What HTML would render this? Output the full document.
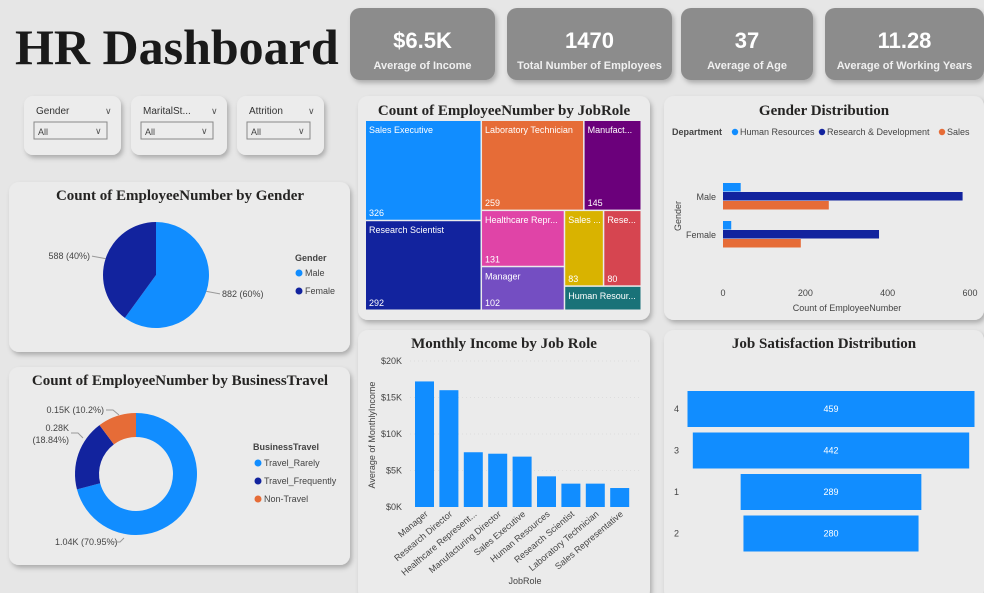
<!DOCTYPE html>
<html><head><meta charset="utf-8">
<style>
body{margin:0;width:984px;height:593px;overflow:hidden;background:#e6e6e6;font-family:"Liberation Sans",sans-serif;}
svg{display:block}
.t{font-family:"Liberation Serif",serif;font-weight:bold;font-size:15px;fill:#252423;text-anchor:middle}
.s{font-size:9px;fill:#444}
.w{fill:#fff;font-size:9px}
</style></head><body>
<svg id="root" width="984" height="593" xmlns="http://www.w3.org/2000/svg">
<defs><filter id="sh" x="-10%" y="-10%" width="130%" height="130%"><feDropShadow dx="2" dy="3" stdDeviation="2.5" flood-color="#000" flood-opacity="0.25"/></filter></defs>
<text x="15" y="64" font-family="Liberation Serif,serif" font-weight="bold" font-size="50" fill="#1a1a1a">HR Dashboard</text>
<g id="kpis"></g>
<g id="slicers"></g>
<g id="cards"></g>
<g id="charts"></g>
</svg>
<script>
const NS="http://www.w3.org/2000/svg";
function el(tag,attrs,parent,text){const e=document.createElementNS(NS,tag);for(const k in attrs)e.setAttribute(k,attrs[k]);if(text!==undefined)e.textContent=text;(parent||document.getElementById('charts')).appendChild(e);return e;}

// KPI data
const kpiValues=["$6.5K","1470","37","11.28"];
const kpiLabels=["Average of Income","Total Number of Employees","Average of Age","Average of Working Years"];
const kpiX=[350,507,681,825],kpiW=[145,165,132,159];
const kg=document.getElementById('kpis');
kpiValues.forEach((v,i)=>{
  const g=el('g',{},kg);
  
  
  el('rect',{x:kpiX[i],y:8,width:kpiW[i],height:72,rx:10,fill:'#8c8c8c',filter:'url(#sh)'},g);
  el('text',{x:kpiX[i]+kpiW[i]/2,y:48,'text-anchor':'middle','font-size':22,'font-weight':'bold',fill:'#fff'},g,v);
  el('text',{x:kpiX[i]+kpiW[i]/2,y:69,'text-anchor':'middle','font-size':11,'font-weight':'bold',fill:'#f0f0f0'},g,kpiLabels[i]);
});

// slicers
const slicerNames=["Gender","MaritalSt...","Attrition"];
const slX=[24,131,237],slW=[97,96,87];
const sg=document.getElementById('slicers');
slicerNames.forEach((n,i)=>{
  const g=el('g',{},sg);
  
  
  el('rect',{x:slX[i],y:96,width:slW[i],height:59,rx:9,fill:'#ececec',filter:'url(#sh)'},g);
  el('text',{x:slX[i]+12,y:114,'font-size':10,fill:'#333'},g,n);
  el('text',{x:slX[i]+slW[i]-16,y:114,'font-size':9,fill:'#555'},g,'∨');
  el('rect',{x:slX[i]+10,y:122,width:slW[i]-24,height:17,fill:'#ececec',stroke:'#888'},g);
  el('text',{x:slX[i]+14,y:135,'font-size':9,fill:'#444'},g,'All');
  el('text',{x:slX[i]+slW[i]-26,y:134,'font-size':9,fill:'#555'},g,'∨');
});

// cards
const cardDefs=[["card-gender-pie",9,182,341,170,"Count of EmployeeNumber by Gender",180,200],
["card-business-travel",9,367,341,198,"Count of EmployeeNumber by BusinessTravel",180,385],
["card-jobrole-treemap",358,96,292,224,"Count of EmployeeNumber by JobRole",504,115],
["card-gender-distribution",664,96,320,224,"Gender Distribution",824,115],
["card-monthly-income",358,330,292,270,"Monthly Income by Job Role",504,348],
["card-job-satisfaction",664,330,320,270,"Job Satisfaction Distribution",824,348]];
const cg=document.getElementById('cards');
cardDefs.forEach(c=>{
  const g=el('g',{},cg);
  
  
  el('rect',{x:c[1],y:c[2],width:c[3],height:c[4],rx:10,fill:'#ebebeb',filter:'url(#sh)'},g);
  const t=el('text',{x:c[6],y:c[7],class:'t'},g,c[5]);
  
  
});

// ---- Gender pie
const genderCats=["Male","Female"];
const genderVals=[882,588];
const genderLbl=["882 (60%)","588 (40%)"];
const genderCols=["#118dff","#12239e"];
(function(){
  const cx=156,cy=275,r=53,tot=genderVals.reduce((a,b)=>a+b,0);
  let a0=0;
  genderVals.forEach((v,i)=>{
    const a1=a0+v/tot*2*Math.PI;
    const p=(a)=>[cx+r*Math.sin(a),cy-r*Math.cos(a)];
    const s=p(a0),e=p(a1);
    const path=el('path',{d:`M${cx},${cy}L${s[0]},${s[1]}A${r},${r} 0 ${a1-a0>Math.PI?1:0} 1 ${e[0]},${e[1]}Z`,fill:genderCols[i]});
    
    
    const m=(a0+a1)/2,lx=cx+(r+8)*Math.sin(m),ly=cy-(r+8)*Math.cos(m);
    const right=Math.sin(m)>0;
    el('line',{x1:cx+r*Math.sin(m),y1:cy-r*Math.cos(m),x2:lx+(right?6:-6),y2:ly,stroke:'#999'});
    const t=el('text',{x:lx+(right?8:-8),y:ly+3,'text-anchor':right?'start':'end',class:'s'},undefined,genderLbl[i]);
    
    
    a0=a1;
  });
  el('text',{x:295,y:261,class:'s','font-weight':'bold'},undefined,'Gender');
  genderCats.forEach((c,i)=>{
    const lg=el('g',{});
    
    
    el('circle',{cx:299,cy:273+i*18,r:3.5,fill:genderCols[i]},lg);
    el('text',{x:305,y:276+i*18,class:'s'},lg,c);
  });
})();

// ---- Business travel donut
const travelCats=["Travel_Rarely","Travel_Frequently","Non-Travel"];
const travelVals=[1043,277,150];
const travelLbl=[["1.04K (70.95%)"],["0.28K","(18.84%)"],["0.15K (10.2%)"]];
const travelCols=["#118dff","#12239e","#e66c37"];
(function(){
  const cx=136,cy=474,R=61,r=37,tot=travelVals.reduce((a,b)=>a+b,0);
  let a0=0;
  const p=(a,rr)=>[cx+rr*Math.sin(a),cy-rr*Math.cos(a)];
  const lpos=[[55,545,'start'],[69,443,'end'],[104,413,'end']];
  travelVals.forEach((v,i)=>{
    const a1=a0+v/tot*2*Math.PI,lg=a1-a0>Math.PI?1:0;
    const s=p(a0,R),e=p(a1,R),s2=p(a1,r),e2=p(a0,r);
    const path=el('path',{d:`M${s}A${R},${R} 0 ${lg} 1 ${e}L${s2}A${r},${r} 0 ${lg} 0 ${e2}Z`,fill:travelCols[i]});
    
    
    const L=travelLbl[i];
    L.forEach((t,j)=>{
      const tx=el('text',{x:lpos[i][0],y:lpos[i][1]+j*12-(L.length-1)*12,'text-anchor':lpos[i][2],class:'s'},undefined,t);
      
      
    });
    a0=a1;
  });
  el('path',{d:'M106,410 h7 l6,5 M71,433 h7 l5,5 M113,542 h7 l4,-4',stroke:'#999',fill:'none'});
  el('text',{x:253,y:450,class:'s','font-weight':'bold'},undefined,'BusinessTravel');
  travelCats.forEach((c,i)=>{
    const lg=el('g',{});
    
    
    el('circle',{cx:258,cy:463+i*18,r:3.5,fill:travelCols[i]},lg);
    el('text',{x:264,y:466+i*18,class:'s'},lg,c);
  });
})();

// ---- Treemap
const roleCats=["Sales Executive","Research Scientist","Laboratory Technician","Manufact...","Healthcare Repr...","Manager","Sales ...","Rese...","Human Resour..."];
const roleVals=[326,292,259,145,131,102,83,80,52];
const roleCols=["#118dff","#12239e","#e66c37","#6b007b","#e044a7","#744ec2","#d9b300","#d64550","#197278"];
(function(){
  const X=366,Y=121,W=276,H=190,tot=roleVals.reduce((a,b)=>a+b,0);
  const rects=[];
  function box(i,x,y,w,h){rects[i]=[x,y,w,h];}
  const sum=(a)=>a.reduce((s,i)=>s+roleVals[i],0);
  const w1=W*sum([0,1])/tot;
  const h0=H*roleVals[0]/sum([0,1]);
  box(0,X,Y,w1,h0);box(1,X,Y+h0,w1,H-h0);
  const X2=X+w1,W2=W-w1,rest=[2,3,4,5,6,7,8];
  const hTop=H*sum([2,3])/sum(rest);
  const w2=W2*roleVals[2]/sum([2,3]);
  box(2,X2,Y,w2,hTop);box(3,X2+w2,Y,W2-w2,hTop);
  const Y3=Y+hTop,H3=H-hTop,r3=[4,5,6,7,8];
  const wA=W2*sum([4,5])/sum(r3);
  const h4=H3*roleVals[4]/sum([4,5]);
  box(4,X2,Y3,wA,h4);box(5,X2,Y3+h4,wA,H3-h4);
  const X4=X2+wA,W4=W2-wA;
  const hB=H3*sum([6,7])/sum([6,7,8]);
  const w6=W4*roleVals[6]/sum([6,7]);
  box(6,X4,Y3,w6,hB);box(7,X4+w6,Y3,W4-w6,hB);box(8,X4,Y3+hB,W4,H3-hB);
  rects.forEach((r,i)=>{
    const g=el('g',{});
    
    
    el('rect',{x:r[0],y:r[1],width:r[2]-1.5,height:r[3]-1.5,fill:roleCols[i]},g);
    el('text',{x:r[0]+3,y:r[1]+12,class:'w'},g,roleCats[i]);
    if(i!==8) el('text',{x:r[0]+3,y:r[1]+r[3]-5,class:'w'},g,roleVals[i]);
  });
})();

// ---- Gender distribution bars
const gdGenders=["Male","Female"];
const gdDepts=["Human Resources","Research & Development","Sales"];
const gdHR=[43,20];
const gdRD=[582,379];
const gdSales=[257,189];
const gdTicks=[0,200,400,600];
const gdCols=["#118dff","#12239e","#e66c37"];
(function(){
  const x0=723,scale=(970-723)/600;
  const xs=v=>x0+v*scale;
  el('text',{x:672,y:135,class:'s','font-weight':'bold'},undefined,'Department');
  const lx=[732,819,939];
  gdDepts.forEach((d,i)=>{
    const g=el('g',{});
    
    
    el('circle',{cx:lx[i]+3,cy:132,r:3.2,fill:gdCols[i]},g);
    el('text',{x:lx[i]+8,y:135,class:'s'},g,d);
  });
  gdTicks.forEach(t=>{
    el('text',{x:xs(t),y:296,class:'s','text-anchor':'middle'},undefined,t);
  });
  el('text',{x:847,y:311,class:'s','text-anchor':'middle','font-size':10},undefined,'Count of EmployeeNumber');
  el('text',{x:0,y:0,class:'s','text-anchor':'middle',transform:'translate(681,216) rotate(-90)'},undefined,'Gender');
  const series=[gdHR,gdRD,gdSales];
  gdGenders.forEach((gname,gi)=>{
    const yc=[197,235][gi];
    el('text',{x:716,y:yc+3,class:'s','text-anchor':'end'},undefined,gname);
    series.forEach((s,si)=>{
      const b=el('rect',{x:x0,y:yc-14+si*9,width:xs(s[gi])-x0,height:8.5,fill:gdCols[si]});
      
      
    });
  });
})();

// ---- Monthly income
const incRoles=["Manager","Research Director","Healthcare Represent...","Manufacturing Director","Sales Executive","Human Resources","Research Scientist","Laboratory Technician","Sales Representative"];
const incVals=[17.2,16.0,7.5,7.3,6.9,4.2,3.2,3.2,2.6];
const incTicks=[0,5,10,15,20];
(function(){
  const y0=507,sc=(507-361)/20,ys=v=>y0-v*sc,bx=415,step=24.4,bw=19;
  incTicks.forEach(t=>{
    el('text',{x:402,y:ys(t)+3,class:'s','text-anchor':'end',fill:'#666'},undefined,'$'+t+'K');
    if(t>0) el('line',{x1:410,x2:640,y1:ys(t),y2:ys(t),stroke:'#ddd','stroke-dasharray':'1 3'});
  });
  el('text',{x:0,y:0,class:'s','text-anchor':'middle',transform:'translate(375,435) rotate(-90)'},undefined,'Average of MonthlyIncome');
  incVals.forEach((v,i)=>{
    const x=bx+i*step;
    const b=el('rect',{x:x,y:ys(v),width:bw,height:v*sc,fill:'#118dff'});
    
    
    el('text',{x:0,y:0,class:'s','text-anchor':'end','font-size':8,transform:`translate(${x+bw/2+4},${515}) rotate(-40)`},undefined,incRoles[i]);
  });
  el('text',{x:525,y:584,class:'s','text-anchor':'middle'},undefined,'JobRole');
})();

// ---- Job satisfaction funnel
const jsLevels=["4","3","1","2"];
const jsVals=[459,442,289,280];
(function(){
  const cx=831,sc=287/459,y0=391,step=41.5,h=36;
  jsVals.forEach((v,i)=>{
    const y=y0+i*step,w=v*sc;
    const g=el('g',{});
    
    
    el('rect',{x:cx-w/2,y:y,width:w,height:h,fill:'#118dff'},g);
    el('text',{x:cx,y:y+h/2+3,class:'w','text-anchor':'middle'},g,v);
    el('text',{x:674,y:y+h/2+3,class:'s'},undefined,jsLevels[i]);
  });
})();
</script>
</body></html>
